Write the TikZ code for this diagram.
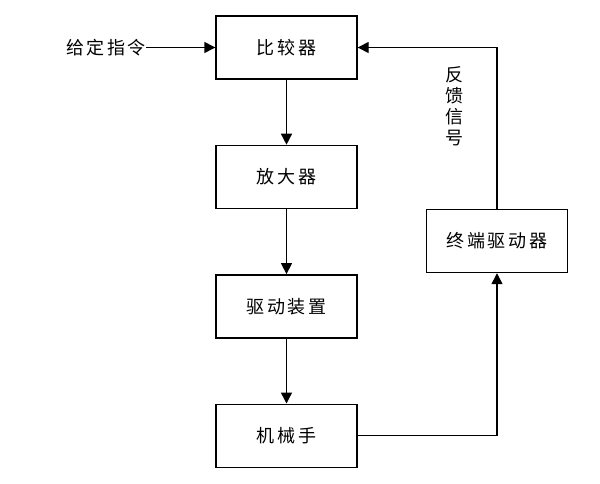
\documentclass[tikz,border=0pt]{standalone}
\usepackage{fontspec}
\setmainfont{Noto Sans CJK SC}[LetterSpace=14]
\usetikzlibrary{arrows.meta,positioning}

\begin{document}
\begin{tikzpicture}[x=1pt,y=-1pt,
  block/.style={draw, line width=1.4pt, minimum width=141pt, minimum height=63pt, font=\fontsize{18}{21}\selectfont},
  link/.style={line width=1.4pt, -{Triangle[length=11pt,width=11pt]}},
  tag/.style={inner sep=0pt, font=\fontsize{18}{21}\selectfont}]
\useasboundingbox (0,0) rectangle (600,483);
% main chain
\node[block] (cmp) at (286.5,47.5) {比较器};
\node[block, below=65pt of cmp] (amp) {放大器};
\node[block, below=65pt of amp] (drv) {驱动装置};
\node[block, below=65pt of drv] (arm) {机械手};
% feedback branch
\node[block] (end) at (497,241) {终端驱动器};
\node[tag, anchor=east] (cmd) at (146,47.5) {给定指令};
\node[tag, align=center] (fb) at (454,106) {反\\馈\\信\\号};
\draw[link] (cmd.east) -- (cmp.west);
\draw[link] (cmp) -- (amp);
\draw[link] (amp) -- (drv);
\draw[link] (drv) -- (arm);
\draw[link] (arm.east) -| (end.south);
\draw[link] (end.north) |- (cmp.east);
\end{tikzpicture}
\end{document}
